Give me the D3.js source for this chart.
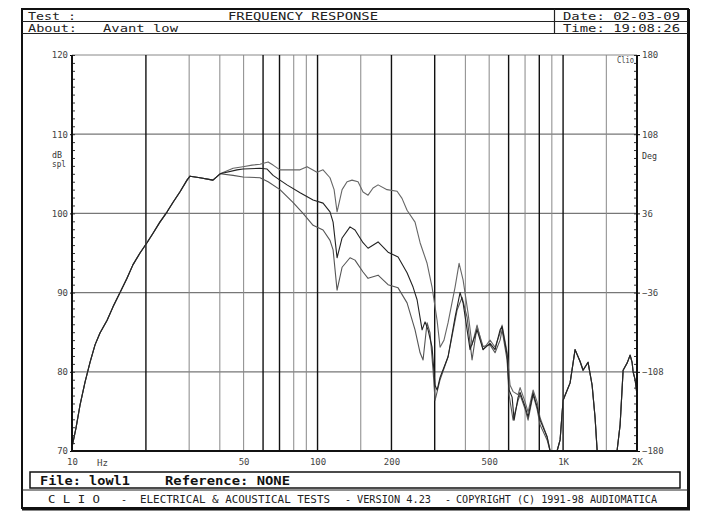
<!DOCTYPE html>
<html><head><meta charset="utf-8">
<script src="https://cdn.jsdelivr.net/npm/d3@7"></script>
<style>
body{margin:0;background:#fff}
text{font-family:"DejaVu Sans Mono","Liberation Mono",monospace}
</style>
</head><body>
<svg id="c" width="705" height="523"></svg>
<script>
// ---- data ----
const lowFreq = [10, 10.38, 10.78, 11.3, 11.84, 12.41, 13.0, 13.9, 14.69, 15.69, 16.75, 17.7, 18.92, 20.2, 21.38, 22.8, 24.4, 25.8, 27.5, 29.4, 30.25, 33.2, 37.5];
const lowSpl  = [70.5, 72.9, 75.8, 78.7, 81.2, 83.4, 84.9, 86.5, 88.2, 90.0, 91.8, 93.5, 95.0, 96.3, 97.5, 98.9, 100.2, 101.4, 102.7, 104.2, 104.7, 104.5, 104.2];

const aFreq = [40.1, 45.3, 49.7, 54.1, 58.3, 62.9, 65.9, 70.3, 79.4, 84.9, 90.6, 99.5, 105.3, 112.4, 116.8, 120.1, 125.9, 131.9, 138.2, 146.2, 153.2, 160.6, 168.3, 176.4, 191.9, 210.8, 220.8, 231.5, 249.5, 261.6, 279.3, 292.7, 306.8, 315.5, 327.3, 340.1, 363.2, 377.1, 391.5, 410.2, 425.9, 446.3, 472.1, 504.1, 528.4, 553.9, 564.3, 591.4, 608.3, 625.8, 655.8, 668.2, 700.3, 720.2, 754.8, 783.7, 806, 860.7, 885.2];
const aSpl  = [105.0, 105.7, 105.9, 106.1, 106.2, 106.5, 106.1, 105.5, 105.5, 105.5, 105.9, 105.2, 105.5, 104.5, 103.0, 100.2, 103.0, 104.0, 104.2, 104.0, 102.7, 102.3, 103.2, 103.6, 103.0, 102.8, 101.9, 100.4, 98.9, 96.3, 93.7, 90.7, 86.5, 83.1, 84.0, 86.2, 90.7, 93.7, 91.6, 87.4, 83.4, 85.9, 82.8, 84.0, 83.1, 84.9, 85.9, 82.5, 78.3, 77.5, 77.1, 78.0, 76.2, 74.9, 77.7, 76.2, 74.2, 71.8, 70.1];

const bFreq = [40.1, 47.0, 49.7, 58.3, 62.3, 65.9, 70.3, 75.1, 84.9, 95.9, 105.3, 112.4, 115.7, 120.1, 125.9, 135.6, 142.1, 153.2, 160.6, 176.4, 193.7, 212.8, 231.5, 244.9, 254.3, 266.6, 274.1, 281.8, 292.7, 301, 306.8, 315.5, 340.1, 363.2, 380.6, 391.5, 418, 446.3, 472.1, 504.1, 528.4, 553.9, 564.3, 591.4, 602.6, 620, 631.8, 655.8, 668.2, 700.3, 720.2, 754.8, 783.7, 806, 860.7, 885.2];
const bSpl  = [105.0, 105.5, 105.6, 105.7, 105.6, 104.8, 104.2, 103.6, 102.6, 101.7, 101.3, 100.2, 98.9, 94.4, 96.9, 98.3, 97.9, 96.3, 95.6, 96.4, 95.1, 94.5, 92.5, 90.7, 89.1, 85.3, 86.3, 85.3, 83.1, 78.3, 77.7, 79.3, 81.9, 86.9, 90.0, 88.7, 82.8, 85.3, 82.8, 83.6, 82.8, 85.3, 85.7, 82.1, 77.7, 76.8, 73.9, 76.8, 77.4, 75.6, 74.3, 77.3, 75.6, 73.9, 71.8, 69.9];

const cFreq = [40.1, 45.3, 49.7, 58.3, 62.9, 70.3, 79.4, 87.3, 95.9, 105.3, 112.4, 115.7, 120.1, 125.9, 135.6, 142.1, 153.2, 160.6, 176.4, 193.7, 212.8, 231.5, 249.5, 261.6, 269.0, 279.3, 287.2, 295.4, 301, 315.5, 340.1, 370.1, 387.8, 406.4, 425.9, 446.3, 472.1, 504.1, 528.4, 553.9, 564.3, 591.4, 602.6, 625.8, 655.8, 668.2, 700.3, 720.2, 754.8, 783.7, 806, 860.7, 885.2];
const cSpl  = [105.0, 104.8, 104.6, 104.5, 104.0, 103.0, 101.4, 100.0, 98.5, 97.9, 96.6, 95.4, 90.3, 93.2, 94.4, 94.1, 92.6, 91.8, 92.2, 91.0, 90.6, 88.7, 85.3, 82.4, 81.5, 86.2, 84.9, 80.2, 76.4, 79.0, 81.9, 87.8, 89.4, 86.9, 81.5, 85.7, 83.2, 83.4, 82.4, 84.0, 85.3, 81.5, 77.1, 73.9, 76.4, 77.1, 75.3, 73.9, 77.1, 75.3, 73.3, 71.4, 69.9];

const hiFreq = [945.4, 972.4, 1000, 1068, 1119, 1173, 1206, 1264, 1313, 1350, 1376, 1415, 1629, 1660, 1707, 1756, 1823, 1875, 1910, 1928, 1965, 2000];
const hiSpl  = [69.9, 71.4, 76.4, 78.6, 82.8, 81.3, 80.2, 81.2, 78.3, 74.2, 70.1, 67.6, 67.6, 70.1, 73.3, 80.2, 81.1, 82.1, 81.2, 80.0, 79.0, 77.1];

const gridFreqs = [20, 30, 40, 50, 60, 70, 80, 90, 100, 150, 200, 300, 400, 500, 600, 700, 800, 900, 1000, 1500];
const darkGrid  = [20, 60, 70, 100, 200, 300, 600, 800, 1000];
const xTickVals = [10, 50, 100, 200, 500, 1000, 2000];
const xTickLabels = ["10", "50", "100", "200", "500", "1K", "2K"];
const yTickVals = [70, 80, 90, 100, 110, 120];
const degTickVals = [-180, -108, -36, 36, 108, 180];

// ---- drawing ----
const svg = d3.select("#c");
const L = 72, R = 637, T = 55, B = 451;
const x = d3.scaleLog().domain([10, 2000]).range([L, R]);
const y = d3.scaleLinear().domain([70, 120]).range([B, T]).clamp(true);
const yDeg = d3.scaleLinear().domain([-180, 180]).range([B, T]);

// outer frame
svg.append("rect").attr("x", 22).attr("y", 9).attr("width", 666).attr("height", 499)
  .attr("fill", "none").attr("stroke", "#111").attr("stroke-width", 2);
svg.append("line").attr("x1", 22).attr("x2", 690).attr("y1", 509).attr("y2", 509)
  .attr("stroke", "#111").attr("stroke-width", 3);
svg.append("line").attr("x1", 689).attr("x2", 689).attr("y1", 9).attr("y2", 510)
  .attr("stroke", "#111").attr("stroke-width", 2);
// header lines
svg.append("line").attr("x1", 22).attr("x2", 688).attr("y1", 21.5).attr("y2", 21.5).attr("stroke", "#222").attr("stroke-width", 1);
svg.append("line").attr("x1", 22).attr("x2", 688).attr("y1", 33.5).attr("y2", 33.5).attr("stroke", "#222").attr("stroke-width", 1.2);
svg.append("line").attr("x1", 554.5).attr("x2", 554.5).attr("y1", 9).attr("y2", 33.5).attr("stroke", "#222").attr("stroke-width", 1.2);

function txt(s, tx, ty, len, opts = {}) {
  const t = svg.append("text").attr("x", tx).attr("y", ty).text(s)
    .attr("font-size", opts.size || 11).attr("fill", opts.fill || "#222");
  if (len) t.attr("textLength", len).attr("lengthAdjust", "spacingAndGlyphs");
  if (opts.weight) t.attr("font-weight", opts.weight);
  if (opts.anchor) t.attr("text-anchor", opts.anchor);
  return t;
}
txt("Test :", 28, 19.5, 48);
txt("FREQUENCY RESPONSE", 228, 19.5, 150);
txt("Date: 02-03-09", 563, 19.5, 117);
txt("About:", 28, 31.5, 49);
txt("Avant low", 103, 31.5, 75);
txt("Time: 19:08:26", 563, 31.5, 117);

// horizontal grid
svg.append("g").selectAll("line").data([80, 90, 100, 110]).join("line")
  .attr("x1", L).attr("x2", R).attr("y1", d => y(d)).attr("y2", d => y(d))
  .attr("stroke", "#777").attr("stroke-width", 1.3);
svg.append("line").attr("x1", L).attr("x2", R).attr("y1", T).attr("y2", T)
  .attr("stroke", "#888").attr("stroke-width", 1);

// vertical grid
svg.append("g").selectAll("line").data(gridFreqs).join("line")
  .attr("x1", d => x(d)).attr("x2", d => x(d)).attr("y1", T).attr("y2", B)
  .attr("stroke", d => darkGrid.includes(d) ? "#111" : "#888")
  .attr("stroke-width", d => darkGrid.includes(d) ? 1.4 : 1);

// curves
const clip = svg.append("clipPath").attr("id", "pc").append("rect")
  .attr("x", L).attr("y", T).attr("width", R - L).attr("height", B - T);
const build = (f, s) => d3.zip(lowFreq.concat(f, hiFreq), lowSpl.concat(s, hiSpl));
const series = [
  {pts: build(cFreq, cSpl), col: "#555"},
  {pts: build(aFreq, aSpl), col: "#666"},
  {pts: build(bFreq, bSpl), col: "#222"}
];
const line = d3.line().x(d => x(d[0])).y(d => y(d[1]));
svg.append("g").attr("clip-path", "url(#pc)").selectAll("path").data(series).join("path")
  .attr("d", d => line(d.pts)).attr("fill", "none")
  .attr("stroke", d => d.col).attr("stroke-width", 1.1).attr("stroke-linejoin", "round");

// left axis: minor ticks inside
const gl = svg.append("g").attr("transform", `translate(${L},0)`);
gl.call(d3.axisLeft(y).ticks(50).tickSize(-3).tickFormat(""));
gl.select(".domain").remove();
gl.selectAll("line").attr("stroke", "#333");
const glm = svg.append("g").attr("transform", `translate(${L},0)`);
glm.call(d3.axisLeft(y).tickValues(yTickVals).tickSize(2).tickPadding(2).tickFormat(d3.format("d")));
glm.select(".domain").remove();
glm.selectAll("text").attr("font-size", 9).attr("fill", "#444").attr("font-family", "DejaVu Sans Mono");

// right axis
const gr = svg.append("g").attr("transform", `translate(${R},0)`);
gr.call(d3.axisRight(y).ticks(50).tickSize(-3).tickFormat(""));
gr.select(".domain").remove();
gr.selectAll("line").attr("stroke", "#333");
const grm = svg.append("g").attr("transform", `translate(${R},0)`);
grm.call(d3.axisRight(yDeg).tickValues(degTickVals).tickSize(3).tickPadding(2).tickFormat(d3.format("d")));
grm.select(".domain").remove();
grm.selectAll("text").attr("font-size", 9).attr("fill", "#444").attr("font-family", "DejaVu Sans Mono");

// bottom axis labels
const gb = svg.append("g").attr("transform", `translate(0,${B})`);
gb.call(d3.axisBottom(x).tickValues(xTickVals).tickSize(0).tickPadding(8)
  .tickFormat((d, i) => xTickLabels[i]));
gb.select(".domain").remove();
gb.selectAll("text").attr("font-size", 9).attr("fill", "#444").attr("font-family", "DejaVu Sans Mono");

// plot frame lines
svg.append("line").attr("x1", L).attr("x2", L).attr("y1", T).attr("y2", B + 1).attr("stroke", "#111").attr("stroke-width", 2);
svg.append("line").attr("x1", R).attr("x2", R).attr("y1", T).attr("y2", B + 1).attr("stroke", "#111").attr("stroke-width", 2);
svg.append("line").attr("x1", L).attr("x2", R).attr("y1", B).attr("y2", B).attr("stroke", "#111").attr("stroke-width", 2);

txt("Hz", 97, 466, 11, {size: 9, fill: "#444"});
txt("dB", 52, 158, 10, {size: 9, fill: "#333"});
txt("spl", 52, 167, 14, {size: 9, fill: "#333"});
txt("Deg", 642, 159, 15, {size: 9, fill: "#333"});
txt("Clio", 617, 63, 17, {size: 8, fill: "#444"});

// file box + footer
svg.append("rect").attr("x", 30).attr("y", 472).attr("width", 650).attr("height", 16)
  .attr("fill", "none").attr("stroke", "#111").attr("stroke-width", 1.5);
svg.append("line").attr("x1", 22).attr("x2", 688).attr("y1", 490).attr("y2", 490).attr("stroke", "#222").attr("stroke-width", 1);
txt("File: lowl1", 40, 484.5, 90, {size: 12, weight: "bold", fill: "#111"});
txt("Reference: NONE", 165, 484.5, 125, {size: 12, weight: "bold", fill: "#111"});
txt("C L I O", 48, 503, 52, {size: 10});
txt("-", 121, 503, 6, {size: 10});
txt("ELECTRICAL & ACOUSTICAL TESTS", 140, 503, 190, {size: 10});
txt("-", 345, 503, 6, {size: 10});
txt("VERSION 4.23", 357, 503, 74, {size: 10});
txt("-", 445, 503, 6, {size: 10});
txt("COPYRIGHT (C) 1991-98 AUDIOMATICA", 456, 503, 201, {size: 10});
</script>
</body></html>
